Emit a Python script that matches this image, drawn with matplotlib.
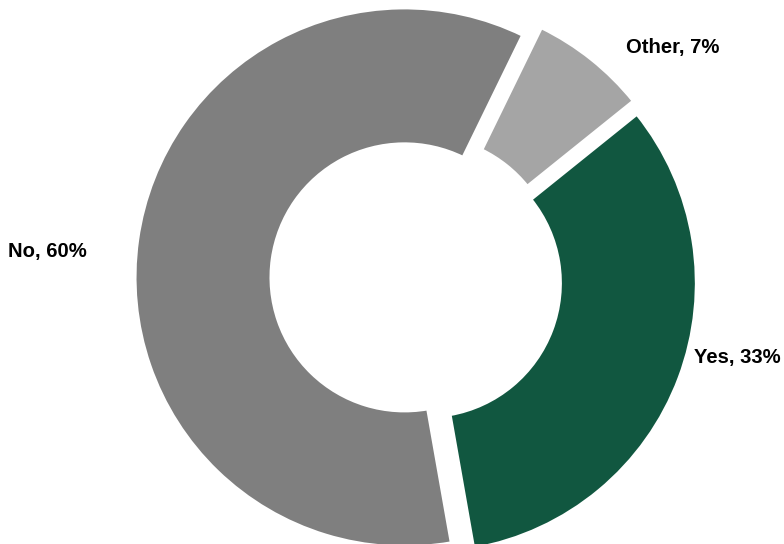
import matplotlib
matplotlib.use("Agg")
import matplotlib.pyplot as plt
from matplotlib import font_manager

# Survey answers (percent)
labels = ["Yes", "Other", "No"]
values = [33, 7, 60]
colors = ["#115740", "#A5A5A5", "#7F7F7F"]

names = {f.name for f in font_manager.fontManager.ttflist}
family = [n for n in ["Liberation Sans Narrow", "Arial Narrow", "Liberation Sans", "DejaVu Sans"] if n in names]
narrow = family[0] in ("Liberation Sans Narrow", "Arial Narrow")

W, H = 784, 544
fig = plt.figure(figsize=(W / 100, H / 100), dpi=100)
ax = fig.add_axes([0, 0, 1, 1])

center = (416, H - 279)
radius = 269.5
ring = 136
gap = 11.6

wedges, _ = ax.pie(
    values,
    radius=radius,
    center=center,
    startangle=-80,
    counterclock=True,
    explode=[gap] * len(values),
    colors=colors,
    wedgeprops=dict(width=ring, edgecolor="white", linewidth=2.2),
)

ax.set_xlim(0, W)
ax.set_ylim(0, H)
ax.set_aspect("equal")
ax.axis("off")

# label anchors (left edge, vertical centre), in pixels from the top-left
label_pos = {"Yes": (694, 358), "Other": (626, 48), "No": (8, 252)}
size = 17 if narrow else 14.6
for lab, val in zip(labels, values):
    x, y = label_pos[lab]
    ax.text(x, H - y, f"{lab}, {val}%", ha="left", va="center",
            fontsize=size, fontweight="bold", family=family, color="black")

fig.savefig("out.png", dpi=100)
